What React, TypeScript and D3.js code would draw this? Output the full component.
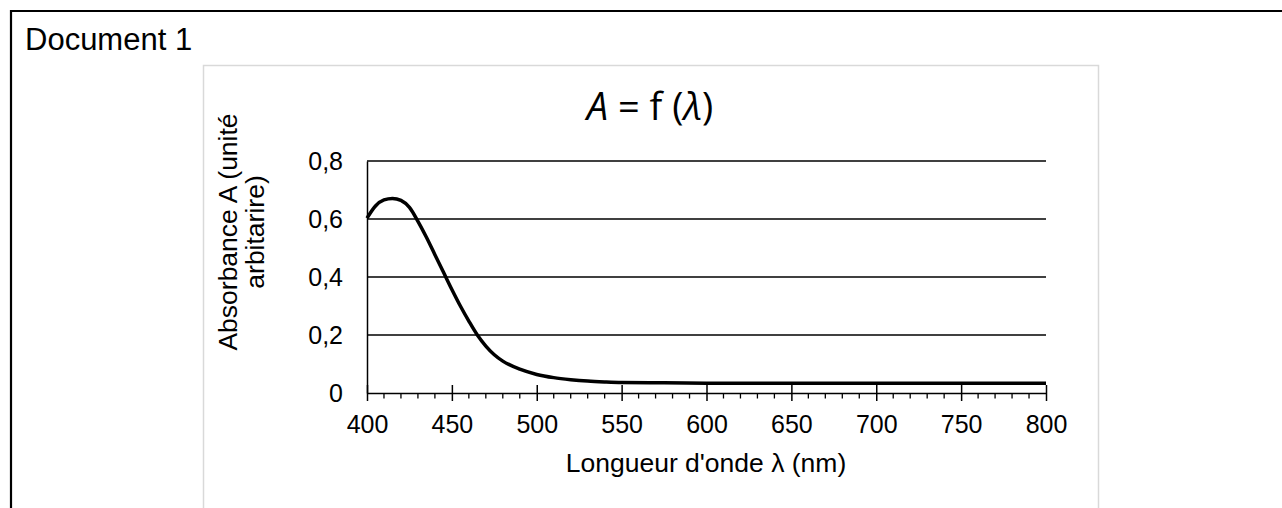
import { useRef, useEffect } from 'react';
import * as d3 from 'd3';

// absorption spectrum
const wavelength = [400, 405, 410, 415, 420, 425, 430, 435, 440, 445, 450, 455, 460, 465, 470, 475, 480, 490, 500, 510, 520, 530, 540, 550, 575, 600, 650, 700, 750, 800];
const absorbance = [0.603, 0.645, 0.666, 0.671, 0.664, 0.640, 0.592, 0.537, 0.477, 0.417, 0.357, 0.300, 0.248, 0.200, 0.162, 0.132, 0.110, 0.082, 0.064, 0.053, 0.046, 0.041, 0.038, 0.036, 0.035, 0.034, 0.034, 0.034, 0.034, 0.034];

const xTicks = [400, 450, 500, 550, 600, 650, 700, 750, 800];
const xMinorTicks = d3.range(400, 801, 10);
const yTicks = [0, 0.2, 0.4, 0.6, 0.8];

const W = 1282;
const H = 508;
const FONT = '"Liberation Sans", Arial, sans-serif';

const App = () => {
    const svgRef = useRef<SVGSVGElement | null>(null);

    useEffect(() => {
        if (!svgRef.current) return;
        const svg = d3.select(svgRef.current);
        svg.selectAll("*").remove();

        // outer document frame
        svg.append("path")
            .attr("d", `M11,${H + 5} V11 H${W + 5}`)
            .attr("fill", "none")
            .attr("stroke", "#000")
            .attr("stroke-width", 2.2);

        svg.append("text")
            .attr("x", 25)
            .attr("y", 50)
            .attr("font-family", FONT)
            .attr("font-size", 31)
            .attr("fill", "#000")
            .text("Document 1");

        // chart area frame
        svg.append("rect")
            .attr("x", 203.5)
            .attr("y", 65.5)
            .attr("width", 895)
            .attr("height", 460)
            .attr("fill", "#fff")
            .attr("stroke", "#d9d9d9")
            .attr("stroke-width", 1.5);

        const xScale = d3.scaleLinear().domain([400, 800]).range([367, 1046]);
        const yScale = d3.scaleLinear().domain([0, 0.8]).range([393, 161]);

        // gridlines
        svg.append("g")
            .selectAll("line")
            .data(yTicks.filter(d => d > 0))
            .join("line")
            .attr("x1", xScale(400))
            .attr("x2", xScale(800))
            .attr("y1", d => yScale(d))
            .attr("y2", d => yScale(d))
            .attr("stroke", "#000")
            .attr("stroke-width", 1.4);

        // y axis (no ticks)
        const yAxis = svg.append("g")
            .attr("transform", `translate(${xScale(400)},0)`)
            .call(d3.axisLeft(yScale)
                .tickValues(yTicks)
                .tickSize(0)
                .tickPadding(24)
                .tickFormat(d => (+d === 0 ? "0" : (+d).toFixed(1).replace(".", ","))));
        yAxis.select(".domain").attr("stroke", "#000").attr("stroke-width", 1.5);
        yAxis.selectAll("text")
            .attr("font-family", FONT)
            .attr("font-size", 25)
            .attr("fill", "#000");

        // x axis: minor ticks below, major ticks crossing
        const xAxis = svg.append("g")
            .attr("transform", `translate(0,${yScale(0)})`)
            .call(d3.axisBottom(xScale)
                .tickValues(xTicks)
                .tickSize(8)
                .tickSizeOuter(0)
                .tickPadding(14)
                .tickFormat(d => String(d)));
        xAxis.select(".domain").attr("stroke", "#000").attr("stroke-width", 1.5);
        xAxis.selectAll(".tick line")
            .attr("y1", -8)
            .attr("stroke", "#000")
            .attr("stroke-width", 1.5);
        xAxis.selectAll("text")
            .attr("font-family", FONT)
            .attr("font-size", 25)
            .attr("fill", "#000");
        xAxis.append("g")
            .selectAll("line")
            .data(xMinorTicks.filter(d => !xTicks.includes(d)))
            .join("line")
            .attr("x1", d => xScale(d))
            .attr("x2", d => xScale(d))
            .attr("y1", 0)
            .attr("y2", 5.5)
            .attr("stroke", "#000")
            .attr("stroke-width", 1.3);

        // curve
        const points = wavelength.map((w, i) => [w, absorbance[i]] as [number, number]);
        svg.append("path")
            .datum(points)
            .attr("fill", "none")
            .attr("stroke", "#000")
            .attr("stroke-width", 3.5)
            .attr("stroke-linejoin", "round")
            .attr("d", d3.line<[number, number]>()
                .x(d => xScale(d[0]))
                .y(d => yScale(d[1]))
                .curve(d3.curveMonotoneX));

        // title
        const title = svg.append("text")
            .attr("x", 650)
            .attr("y", 120)
            .attr("text-anchor", "middle")
            .attr("font-family", '"Open Sans", sans-serif')
            .attr("font-size", 38)
            .attr("fill", "#000");
        title.append("tspan").attr("font-style", "italic").text("A");
        title.append("tspan").text(" = f (");
        title.append("tspan").attr("font-style", "italic").text("λ");
        title.append("tspan").text(")");

        // axis titles
        svg.append("text")
            .attr("x", 706)
            .attr("y", 472)
            .attr("text-anchor", "middle")
            .attr("font-family", FONT)
            .attr("font-size", 26.5)
            .attr("fill", "#000")
            .text("Longueur d'onde λ (nm)");

        const yTitle = svg.append("text")
            .attr("transform", `translate(0,232) rotate(-90)`)
            .attr("text-anchor", "middle")
            .attr("font-family", FONT)
            .attr("font-size", 26.5)
            .attr("fill", "#000");
        yTitle.append("tspan").attr("x", 0).attr("y", 237).text("Absorbance A (unité");
        yTitle.append("tspan").attr("x", 0).attr("y", 264).text("arbitarire)");
    }, []);

    return (
        <svg
            ref={svgRef}
            width={W}
            height={H}
            style={{ position: "absolute", left: 0, top: 0, background: "#fff" }}
        />
    );
};

export default App;
